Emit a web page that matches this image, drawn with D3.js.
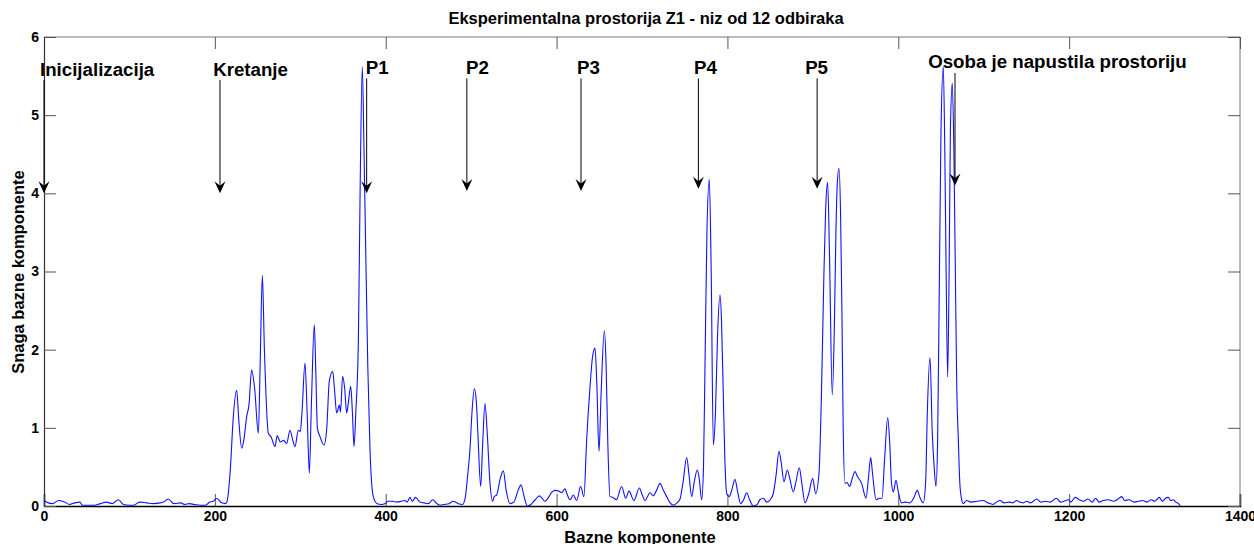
<!DOCTYPE html>
<html>
<head>
<meta charset="utf-8">
<script src="https://cdn.jsdelivr.net/npm/d3@7"></script>
<style>
  html, body { margin: 0; padding: 0; background: #fff; }
  svg { display: block; font-family: "Liberation Sans", Arial, sans-serif; }
</style>
</head>
<body>
<svg id="chart" width="1254" height="544"></svg>
<script>
// ---- data ----
const chartTitle = "Eksperimentalna prostorija Z1 - niz od 12 odbiraka";
const xLabel = "Bazne komponente";
const yLabel = "Snaga bazne komponente";
const xTicks = [0, 200, 400, 600, 800, 1000, 1200, 1400];
const yTicks = [0, 1, 2, 3, 4, 5, 6];

// [base component index, strength]
const signal = [
[0,0.07],[5,0.04],[10,0.03],[17,0.07],[24,0.05],[30,0.02],[36,0.04],[42,0.05],[45,0.01],[52,0.01],[59,0.01],[66,0.03],[73,0.05],[80,0.03],[87,0.08],[93,0.02],[100,0.01],[105,0.01],[112,0.05],[120,0.04],[128,0.03],[136,0.04],[140,0.05],[145.5,0.09],[152,0.03],[160,0.04],[165,0.02],[170,0.03],[176,0.02],[183,0.01],[189,0.01],[194,0.05],[198,0.06],[202,0.1],[208,0.04],[212,0.03],
[214,0.05],[218,0.45],[221.6,1.14],[225.5,1.48],[228,1.1],[231.4,0.74],[234,0.85],[237.2,1.14],[240,1.3],[243,1.74],[246.6,1.5],[250.9,0.93],[253,1.8],[255.6,2.95],[258,2.0],[262.6,0.93],[266,0.88],[270.4,0.76],[273,0.9],[276.6,0.82],[280.5,0.84],[284,0.8],[288,0.97],[291,0.85],[293.8,0.76],[297.7,0.97],[300,0.95],[302,1.2],[305.5,1.83],[308,1.2],[310.6,0.42],[313,1.3],[316.4,2.32],[318,1.8],[320,1.0],[323,0.89],[327.8,0.78],[331,1.0],[334,1.6],[338,1.72],[340,1.5],[342.6,1.19],[345.8,1.29],[347,1.2],[349.6,1.66],[352,1.5],[354.3,1.19],[356,1.3],[359,1.53],[361,1.2],[362.9,0.76],[365,1.2],[368,2.12],[370,4.0],[372.6,5.62],[374.5,4.6],[376.6,3.27],[379,1.8],[381.6,0.72],[383.5,0.3],[385.5,0.12],[390,0.03],[395,0.02],[399,0.03],[403,0.06],[408,0.06],[413,0.05],[418,0.06],[422.6,0.07],[425,0.05],[428.4,0.11],[431,0.06],[435,0.11],[440,0.05],[445,0.04],[450,0.03],[455,0.08],[460,0.03],[463.5,0.01],[468,0.02],[474,0.03],[479,0.06],[485,0.03],[490,0.02],
[493,0.1],[496,0.4],[498.6,0.72],[501,1.2],[503.7,1.5],[506,1.35],[508,0.9],[511.2,0.25],[513.5,0.8],[516.2,1.31],[519,0.9],[522,0.3],[525.2,0.06],[527,0.12],[529.9,0.14],[534,0.35],[537.7,0.45],[541,0.2],[545.5,0.03],[550,0.05],[555,0.2],[558.4,0.27],[562,0.12],[565.8,0.0],[570,0.02],[575,0.08],[579.8,0.13],[583,0.1],[586.4,0.06],[590,0.1],[594,0.17],[598,0.2],[603,0.19],[606,0.17],[609.9,0.22],[612,0.16],[615.7,0.08],[619.6,0.14],[623.5,0.07],[628.2,0.25],[632,0.12],[635.2,0.84],[639,1.5],[642,1.9],[645,2.02],[647,1.6],[649.7,0.7],[652,1.4],[655.9,2.24],[658,1.8],[660,0.8],[662.5,0.12],[666,0.11],[670,0.08],[676.2,0.25],[680.9,0.1],[684.8,0.19],[690.6,0.07],[696.9,0.23],[700,0.15],[703.5,0.07],[709.4,0.17],[713,0.13],[717,0.2],[721,0.29],[725,0.2],[728.9,0.12],[733,0.04],[736.7,0.01],[740,0.03],[744.5,0.09],[748,0.3],[752.3,0.62],[755,0.4],[758.2,0.12],[761,0.3],[764.8,0.46],[767,0.35],[769.8,0.08],
[772,0.5],[774,2.0],[776,3.5],[778.8,4.18],[781,3.0],[783.5,0.78],[786,1.2],[788.5,2.2],[791.3,2.7],[793,2.4],[795,1.5],[797,0.6],[799.1,0.16],[802,0.12],[805,0.2],[808.8,0.34],[812,0.18],[815.5,0.03],[819,0.08],[822.5,0.17],[826,0.08],[830.3,0.0],[835,0.02],[838,0.08],[842,0.1],[846,0.05],[850,0.08],[853.7,0.16],[857,0.4],[860.4,0.7],[863,0.55],[866.2,0.31],[870.1,0.46],[873,0.35],[877.1,0.18],[880,0.3],[884.1,0.49],[887,0.3],[890.8,0.04],[895,0.15],[899.8,0.35],[903.3,0.16],[907.2,0.42],[910,1.4],[913,3.0],[915,3.8],[917.3,4.14],[919.5,3.2],[922.7,1.42],[925,2.2],[927,3.5],[928.5,4.1],[930.6,4.32],[932.5,3.7],[934,2.5],[935.5,1.0],[937.6,0.29],[940,0.3],[943,0.25],[946,0.35],[949.3,0.44],[952,0.38],[957.1,0.29],[962.2,0.1],[965,0.35],[967.7,0.62],[970,0.4],[974,0.08],[978,0.1],[981,0.1],[984,0.6],[987.6,1.13],[990,0.8],[992,0.3],[994.2,0.18],[997.3,0.33],[1000,0.18],[1003.9,0.04],[1008,0.05],[1013.6,0.04],[1018,0.1],[1022.2,0.2],[1025,0.12],[1029.2,0.04],
[1032,0.3],[1034,1.2],[1037.1,1.9],[1039.8,0.93],[1042,0.5],[1044.1,0.25],[1046,0.8],[1048,2.8],[1050,4.8],[1052.7,5.62],[1054.5,4.5],[1056,3.0],[1057.8,1.65],[1059.5,3.0],[1061,4.8],[1063.2,5.41],[1065,4.6],[1067,2.8],[1068.5,1.5],[1070.3,0.84],[1072,0.3],[1074.2,0.08],[1076,0.03],[1080,0.07],[1085,0.05],[1092,0.06],[1099,0.07],[1105,0.04],[1111,0.02],[1115,0.05],[1119,0.07],[1124,0.04],[1130,0.05],[1134,0.04],[1138.6,0.07],[1142,0.05],[1146,0.04],[1150,0.06],[1155,0.04],[1162,0.09],[1167,0.05],[1172,0.06],[1178,0.05],[1185,0.1],[1190,0.05],[1194,0.06],[1199,0.08],[1202,0.05],[1207,0.11],[1212,0.08],[1217,0.06],[1222,0.09],[1227,0.05],[1231,0.1],[1235,0.05],[1240,0.07],[1246,0.08],[1252,0.06],[1256,0.08],[1261.5,0.12],[1265,0.07],[1270,0.08],[1276,0.05],[1281,0.06],[1286,0.07],[1291,0.05],[1296,0.08],[1300,0.06],[1305.6,0.11],[1309,0.06],[1313,0.1],[1316,0.11],[1319,0.07],[1322,0.08],[1325,0.05],[1328,0.03],[1330,0.0]
];

// annotations: label, text x, text baseline value, arrow x, arrow start value, arrow tip value
const annLabels   = ["Inicijalizacija", "Kretanje", "P1", "P2", "P3", "P4", "P5", "Osoba je napustila prostoriju"];
const annTextX    = [-4.7, 198, 376.6, 494, 624, 761, 891, 1035];
const annTextY    = [5.5, 5.5, 5.53, 5.53, 5.53, 5.53, 5.53, 5.6];
const annArrowX   = [0, 206, 377.7, 495, 628.6, 766, 905, 1066.4];
const annArrowTop = [5.45, 5.45, 5.47, 5.47, 5.47, 5.47, 5.47, 5.54];
const annArrowTip = [4.0, 4.0, 4.0, 4.03, 4.03, 4.06, 4.06, 4.1];

// ---- layout ----
const svg = d3.select("#chart");
const W = 1254, H = 544;
const margin = {left: 44, right: 14, top: 37, bottom: 38};
const x = d3.scaleLinear().domain([0, 1400]).range([margin.left, W - margin.right]);
const y = d3.scaleLinear().domain([0, 6]).range([H - margin.bottom, margin.top]);
const tickLen = 12;

// frame
const x0 = x(0), x1 = x(1400), y0 = y(0), y1 = y(6);
svg.append("line").attr("x1", x0).attr("x2", x1).attr("y1", y1).attr("y2", y1).attr("stroke", "#777");
svg.append("line").attr("x1", x1).attr("x2", x1).attr("y1", y1).attr("y2", y0).attr("stroke", "#777");

// bottom axis
const gx = svg.append("g").attr("transform", `translate(0,${y0})`)
  .call(d3.axisBottom(x).tickValues(xTicks).tickSize(-tickLen).tickPadding(5).tickFormat(d3.format("d")));
gx.select(".domain").attr("stroke", "#000").attr("stroke-width", 1.5);
gx.selectAll(".tick line").attr("stroke", "#555");
gx.selectAll("text").attr("font-size", 14).attr("font-weight", "bold").attr("fill", "#000")
  .attr("font-family", "Liberation Sans, Arial, sans-serif");

// top axis ticks
const gxt = svg.append("g").attr("transform", `translate(0,${y1})`)
  .call(d3.axisTop(x).tickValues(xTicks).tickSize(-tickLen).tickFormat(""));
gxt.select(".domain").remove();
gxt.selectAll(".tick line").attr("stroke", "#555");

// left axis
const gy = svg.append("g").attr("transform", `translate(${x0},0)`)
  .call(d3.axisLeft(y).tickValues(yTicks).tickSize(-tickLen).tickPadding(5).tickFormat(d3.format("d")));
gy.select(".domain").attr("stroke", "#333").attr("stroke-width", 1.2);
gy.selectAll(".tick line").attr("stroke", "#555");
gy.selectAll("text").attr("font-size", 14).attr("font-weight", "bold").attr("fill", "#000")
  .attr("font-family", "Liberation Sans, Arial, sans-serif");

// right axis ticks
const gyr = svg.append("g").attr("transform", `translate(${x1},0)`)
  .call(d3.axisRight(y).tickValues(yTicks).tickSize(-tickLen).tickFormat(""));
gyr.select(".domain").remove();
gyr.selectAll(".tick line").attr("stroke", "#555");

// series
const line = d3.line().x(d => x(d[0])).y(d => y(d[1])).curve(d3.curveMonotoneX);
svg.append("path").datum(signal).attr("d", line)
  .attr("fill", "none").attr("stroke", "#1010ff").attr("stroke-width", 1.1);

// annotations
const ann = annLabels.map((t, i) => ({t, tx: annTextX[i], ty: annTextY[i], ax: annArrowX[i], a0: annArrowTop[i], a1: annArrowTip[i]}));
const ga = svg.append("g");
ga.selectAll("line.arrow").data(ann).join("line").attr("class", "arrow")
  .attr("x1", d => x(d.ax)).attr("x2", d => x(d.ax))
  .attr("y1", d => y(d.a0)).attr("y2", d => y(d.a1) - 6)
  .attr("stroke", "#000").attr("stroke-width", 1);
ga.selectAll("path.head").data(ann).join("path").attr("class", "head")
  .attr("transform", d => `translate(${x(d.ax)},${y(d.a1)})`)
  .attr("d", "M0,0 L-5.5,-12 L0,-7.5 L5.5,-12 Z").attr("fill", "#000");
ga.selectAll("text").data(ann).join("text")
  .attr("x", d => x(d.tx)).attr("y", d => y(d.ty))
  .attr("font-size", 18.7).attr("font-weight", "bold").attr("fill", "#000")
  .text(d => d.t);

// title and axis labels
svg.append("text").attr("x", 646).attr("y", 24).attr("text-anchor", "middle")
  .attr("font-size", 16.5).attr("font-weight", "bold").text(chartTitle);
svg.append("text").attr("x", 640).attr("y", 543).attr("text-anchor", "middle")
  .attr("font-size", 16.5).attr("font-weight", "bold").text(xLabel);
svg.append("text").attr("transform", `translate(24,272) rotate(-90)`).attr("text-anchor", "middle")
  .attr("font-size", 16.5).attr("font-weight", "bold").text(yLabel);
</script>
</body>
</html>
